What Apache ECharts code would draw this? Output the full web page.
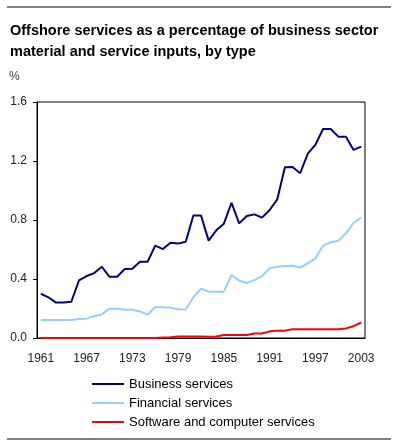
<!DOCTYPE html>
<html>
<head>
<meta charset="utf-8">
<script src="https://cdn.jsdelivr.net/npm/echarts@6/dist/echarts.min.js"></script>
<style>
  html, body { margin: 0; padding: 0; background: #fff; }
  #char { width: 397px; height: 446px; }
</style>
</head>
<body>
<div id="char"></div>
<script>
// years 1961 - 2003
var years = [];
for (var y = 1961; y <= 2003; y++) years.push(String(y));

var businessServices = [
  0.30, 0.276, 0.24, 0.24, 0.246, 0.39, 0.42, 0.44, 0.483, 0.415,
  0.415, 0.468, 0.47, 0.517, 0.517, 0.626, 0.603, 0.646, 0.64, 0.653,
  0.83, 0.83, 0.66, 0.73, 0.775, 0.917, 0.777, 0.827, 0.838, 0.816,
  0.868, 0.94, 1.157, 1.16, 1.117, 1.25, 1.31, 1.417, 1.417, 1.365,
  1.365, 1.275, 1.297
];
var financialServices = [
  0.122, 0.122, 0.122, 0.122, 0.122, 0.129, 0.131, 0.149, 0.16, 0.199,
  0.199, 0.192, 0.192, 0.18, 0.158, 0.21, 0.208, 0.205, 0.195, 0.193,
  0.276, 0.334, 0.314, 0.314, 0.314, 0.427, 0.389, 0.373, 0.393, 0.42,
  0.472, 0.483, 0.488, 0.49, 0.477, 0.506, 0.54, 0.626, 0.649, 0.66,
  0.71, 0.78, 0.816
];
var softwareServices = [
  0, 0, 0, 0, 0, 0, 0, 0, 0, 0,
  0, 0, 0, 0, 0, 0, 0.003, 0.005, 0.01, 0.01,
  0.01, 0.01, 0.008, 0.01, 0.02, 0.02, 0.02, 0.02, 0.03, 0.03,
  0.045, 0.05, 0.05, 0.06, 0.06, 0.06, 0.06, 0.06, 0.06, 0.06,
  0.065, 0.08, 0.105
];

var font = "Liberation Sans, Arial, sans-serif";

var option = {
  animation: false,
  title: {
    text: "Offshore services as a percentage of business sector\nmaterial and service inputs, by type",
    left: 5,
    top: 15,
    textStyle: {
      fontFamily: font,
      fontSize: 14.5,
      fontWeight: "bold",
      color: "#000",
      lineHeight: 21
    }
  },
  legend: {
    orient: "vertical",
    left: 92,
    top: 377,
    padding: 0,
    itemWidth: 32,
    itemHeight: 2,
    itemGap: 5,
    icon: "rect",
    textStyle: {
      fontFamily: font,
      fontSize: 13,
      color: "#000",
      lineHeight: 14
    },
    data: ["Business services", "Financial services", "Software and computer services"]
  },
  grid: {
    // plot box
    show: true,
    left: 37,
    right: 32,
    top: 102,
    bottom: 108,
    borderColor: "#000",
    borderWidth: 1,
    containLabel: false
  },
  xAxis: {
    type: "category",
    boundaryGap: true,
    data: years,
    axisLine: { lineStyle: { color: "#000", width: 1 } },
    axisTick: {
      inside: true,
      length: 4,
      interval: 0,
      lineStyle: { color: "#000" }
    },
    axisLabel: {
      interval: 5,
      margin: 15,
      fontFamily: font,
      fontSize: 12,
      color: "#222"
    },
    splitLine: { show: false }
  },
  yAxis: {
    type: "value",
    min: 0,
    max: 1.6,
    interval: 0.4,
    axisLine: { show: true, lineStyle: { color: "#000" } },
    axisTick: { show: true, length: 4, lineStyle: { color: "#000" } },
    axisLabel: {
      margin: 10,
      fontFamily: font,
      fontSize: 12,
      color: "#222",
      formatter: function (v) { return v.toFixed(1); }
    },
    splitLine: { show: false }
  },
  graphic: [
    { type: "line", shape: { x1: 7, y1: 7, x2: 391, y2: 7 }, style: { stroke: "#000", lineWidth: 1 } },
    { type: "line", shape: { x1: 7, y1: 439, x2: 391, y2: 439 }, style: { stroke: "#000", lineWidth: 1 } },
    { type: "text", left: 9, top: 71, style: { text: "%", font: "12px " + font, fill: "#444" } }
  ],
  series: [
    {
      name: "Business services",
      type: "line",
      symbol: "none",
      data: businessServices,
      lineStyle: { color: "#000080", width: 2 },
      itemStyle: { color: "#000080" }
    },
    {
      name: "Financial services",
      type: "line",
      symbol: "none",
      data: financialServices,
      lineStyle: { color: "#99ccff", width: 2 },
      itemStyle: { color: "#99ccff" }
    },
    {
      name: "Software and computer services",
      type: "line",
      symbol: "none",
      data: softwareServices,
      lineStyle: { color: "#ff0000", width: 2 },
      itemStyle: { color: "#ff0000" }
    }
  ]
};

var myChart = echarts.init(document.getElementById("char"));
myChart.setOption(option);
</script>
</body>
</html>
